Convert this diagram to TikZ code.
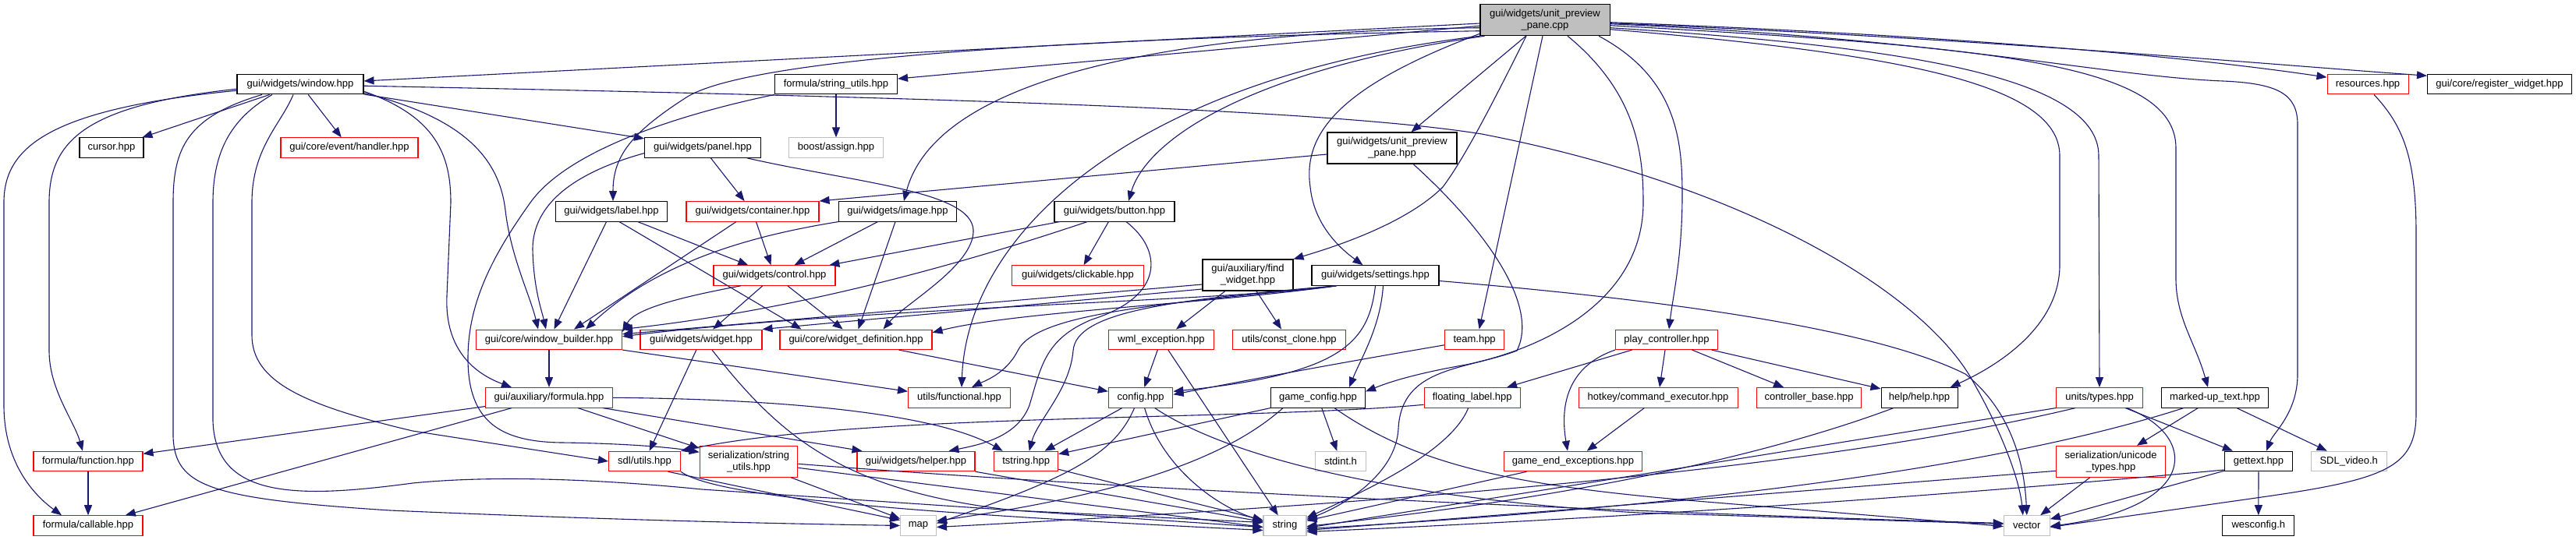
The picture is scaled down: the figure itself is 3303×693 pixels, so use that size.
\documentclass[tikz,border=0pt]{standalone}
\usepackage{fontspec}
\setmainfont{Liberation Sans}
\usetikzlibrary{arrows.meta}
\definecolor{edgec}{HTML}{191970}
\definecolor{lgray}{HTML}{BFBFBF}
\definecolor{nred}{HTML}{FF0000}
\begin{document}
\begin{tikzpicture}[x=1pt,y=-1pt,
  box/.style={rectangle, line width=1.05pt, fill=white, inner sep=0pt, minimum height=25.5pt, align=center, font=\fontsize{13}{15}\selectfont, text=black},
  nb/.style={box, draw=black},
  nr/.style={box, draw=nred},
  ng/.style={box, draw=lgray},
  nroot/.style={box, draw=black, fill=lgray},
  ed/.style={draw=edgec, line width=1.1pt, -{Triangle[length=13pt,width=10pt]}}]
\fill[white] (0,0) rectangle (3303,693);
\useasboundingbox (0,0) rectangle (3303,693);
% nodes
\node[nroot,minimum width=166pt,minimum height=40pt] (root) at (1981,25.7) {gui/widgets/unit\_preview\\\_pane.cpp};
\node[nb,minimum width=162pt] (window) at (385,108.2) {gui/widgets/window.hpp};
\node[nb,minimum width=157pt] (fstrutils) at (1072,108.2) {formula/string\_utils.hpp};
\node[nr,minimum width=104pt] (resources) at (3036,108.2) {resources.hpp};
\node[nb,minimum width=185pt] (register) at (3205,108.2) {gui/core/register\_widget.hpp};
\node[nb,minimum width=82pt] (cursor) at (143,189.6) {cursor.hpp};
\node[nr,minimum width=176pt] (handler) at (448,189.6) {gui/core/event/handler.hpp};
\node[nb,minimum width=149pt] (panel) at (901,189.6) {gui/widgets/panel.hpp};
\node[ng,minimum width=121pt] (assign) at (1072,189.6) {boost/assign.hpp};
\node[nb,minimum width=166pt,minimum height=40pt] (uphpp) at (1785,190) {gui/widgets/unit\_preview\\\_pane.hpp};
\node[nb,minimum width=143pt] (label) at (784,271.3) {gui/widgets/label.hpp};
\node[nr,minimum width=170pt] (container) at (965,271.3) {gui/widgets/container.hpp};
\node[nb,minimum width=151pt] (image) at (1151,271.3) {gui/widgets/image.hpp};
\node[nb,minimum width=154pt] (button) at (1429,271.3) {gui/widgets/button.hpp};
\node[nr,minimum width=156pt] (control) at (993,353.5) {gui/widgets/control.hpp};
\node[nr,minimum width=169pt] (clickable) at (1382,353.5) {gui/widgets/clickable.hpp};
\node[nb,minimum width=116pt,minimum height=40pt] (findw) at (1600,353) {gui/auxiliary/find\\\_widget.hpp};
\node[nb,minimum width=163pt] (settings) at (1763.5,353.5) {gui/widgets/settings.hpp};
\node[nr,minimum width=187pt] (wbuilder) at (704,435.8) {gui/core/window\_builder.hpp};
\node[nr,minimum width=156pt] (widget) at (899,435.8) {gui/widgets/widget.hpp};
\node[nr,minimum width=195pt] (wdef) at (1097.5,435.8) {gui/core/widget\_definition.hpp};
\node[nr,minimum width=135pt] (wml) at (1489,435.8) {wml\_exception.hpp};
\node[nr,minimum width=145pt] (constclone) at (1653,435.8) {utils/const\_clone.hpp};
\node[nr,minimum width=76pt] (team) at (1890.6,435.8) {team.hpp};
\node[nr,minimum width=131pt] (playc) at (2137,435.8) {play\_controller.hpp};
\node[nr,minimum width=162.5pt] (formula) at (704,510.3) {gui/auxiliary/formula.hpp};
\node[nr,minimum width=131pt] (functional) at (1230,510.3) {utils/functional.hpp};
\node[nr,minimum width=82.6pt] (config) at (1462.6,510.3) {config.hpp};
\node[nb,minimum width=121pt] (gameconfig) at (1690,510.3) {game\_config.hpp};
\node[nr,minimum width=123pt] (floating) at (1887.7,510.3) {floating\_label.hpp};
\node[nr,minimum width=204pt] (cmdexec) at (2126,510.3) {hotkey/command\_executor.hpp};
\node[nr,minimum width=134pt] (ctrlbase) at (2319.6,510.3) {controller\_base.hpp};
\node[nb,minimum width=98pt] (help) at (2461,510.3) {help/help.hpp};
\node[nr,minimum width=110.5pt] (unittypes) at (2692,510.3) {units/types.hpp};
\node[nb,minimum width=137pt] (markedup) at (2840,510.3) {marked-up\_text.hpp};
\node[nr,minimum width=140pt] (function) at (113,592) {formula/function.hpp};
\node[nr,minimum width=92pt] (sdlutils) at (826.5,592) {sdl/utils.hpp};
\node[nr,minimum width=125.5pt,minimum height=40pt] (serstr) at (960,592.3) {serialization/string\\\_utils.hpp};
\node[nr,minimum width=151pt] (helper) at (1174.5,592) {gui/widgets/helper.hpp};
\node[nr,minimum width=82pt] (tstring) at (1315.7,592) {tstring.hpp};
\node[ng,minimum width=64.5pt] (stdint) at (1719,592) {stdint.h};
\node[nr,minimum width=177pt] (gameend) at (2017,592) {game\_end\_exceptions.hpp};
\node[nr,minimum width=140pt,minimum height=40pt] (unicode) at (2706.6,592.3) {serialization/unicode\\\_types.hpp};
\node[nb,minimum width=87pt] (gettext) at (2896,592) {gettext.hpp};
\node[ng,minimum width=96.7pt] (sdlvideo) at (3011.7,592) {SDL\_video.h};
\node[nr,minimum width=140pt] (callable) at (113,674.5) {formula/callable.hpp};
\node[ng,minimum width=46pt] (map) at (1177.5,674.5) {map};
\node[ng,minimum width=55pt] (string) at (1647.5,674.5) {string};
\node[ng,minimum width=59pt] (vector) at (2598.8,674.5) {vector};
\node[nb,minimum width=92pt] (wesconfig) at (2895.8,674.5) {wesconfig.h};
% root edges
\draw[ed] (root) -- (window);
\draw[ed] (root) -- (fstrutils);
\draw[ed] ([yshift=-3pt]root.east) .. controls (2500,45) and (2800,72) .. ([yshift=9pt]resources.west);
\draw[ed] ([yshift=-4pt]root.east) .. controls (2550,50) and (2900,82) .. ([yshift=11pt]register.west);
\draw[ed] (root) -- (uphpp);
\draw[ed] ([yshift=-14pt]root.west) .. controls (1300,50) and (950,80) .. (880,125) .. controls (810,170) and (786,200) .. ([xshift=2pt]label.north);
\draw[ed] ([yshift=-10pt]root.west) .. controls (1500,40) and (1200,100) .. ([xshift=8pt]image.north);
\draw[ed] (root.south west) .. controls (1450,100) and (1240,300) .. ([xshift=3pt]functional.north);
\draw[ed] ([xshift=6pt]root.south west) .. controls (1600,90) and (1470,180) .. ([xshift=18pt]button.north);
\draw[ed] ([xshift=-24pt]root.south) .. controls (1920,120) and (1880,200) .. (1850,240) .. controls (1800,290) and (1700,320) .. (findw.north east);
\draw[ed] ([yshift=3pt]root.south west) .. controls (1720,110) and (1670,170) .. (1680,240) .. controls (1685,290) and (1720,320) .. ([xshift=-16pt]settings.north);
\draw[ed] ([xshift=-3pt]root.south) -- ([xshift=6pt]team.north);
\draw[ed] ([xshift=29pt]root.south) .. controls (2100,120) and (2107,200) .. (2107,260) .. controls (2107,380) and (1990,445) .. (1880,468) .. controls (1800,482) and (1770,495) .. ([yshift=8pt]gameconfig.east);
\draw[ed] ([xshift=69pt]root.south) .. controls (2150,100) and (2157,180) .. (2157,250) .. controls (2157,330) and (2145,380) .. ([xshift=3pt]playc.north);
\draw[ed] ([yshift=-12pt]root.east) .. controls (2450,70) and (2641,110) .. (2641,200) -- (2641,340) .. controls (2641,420) and (2560,470) .. ([xshift=-10pt]help.north east);
\draw[ed] ([yshift=-10pt]root.east) .. controls (2450,60) and (2691,100) .. (2691,200) -- (unittypes.north);
\draw[ed] ([yshift=-7pt]root.east) .. controls (2550,60) and (2790,80) .. (2790,190) -- (2790,360) .. controls (2791,410) and (2815,440) .. ([xshift=-9pt]markedup.north);
\draw[ed] ([yshift=-5pt]root.east) .. controls (2500,50) and (2700,98) .. (2850,104) .. controls (2920,107) and (2946,120) .. (2946,160) -- (2946,480) .. controls (2946,530) and (2915,555) .. ([xshift=10pt]gettext.north);
% window edges
\draw[ed] (window) -- (cursor);
\draw[ed] (window) -- (handler);
\draw[ed] (window) -- (panel);
\draw[ed] ([yshift=-8pt]window.west) .. controls (60,140) and (5,190) .. (5,260) -- (5,520) .. controls (5,600) and (50,640) .. ([xshift=-34pt]callable.north);
\draw[ed] ([yshift=-6pt]window.west) .. controls (110,135) and (63,180) .. (63,260) -- (63,450) .. controls (63,500) and (95,540) .. ([xshift=-7pt]function.north);
\draw[ed] ([xshift=-49pt]window.south) .. controls (240,150) and (222,190) .. (222,260) -- (222,560) .. controls (224,625) and (270,640) .. (500,655) .. controls (800,668) and (1000,672) .. (map.west);
\draw[ed] ([xshift=-36pt]window.south) .. controls (300,150) and (273,190) .. (273,260) -- (273,540) .. controls (276,640) and (380,640) .. (529,620) .. controls (650,608) and (800,618) .. (900,628) -- ([yshift=-2pt]string.west);
\draw[ed] ([xshift=-9pt]window.south) .. controls (360,160) and (323,190) .. (323,260) -- (323,430) .. controls (323,490) and (390,520) .. (529,553) -- (sdlutils.west);
\draw[ed] ([yshift=-9pt]window.east) .. controls (560,150) and (578,200) .. (578,260) -- (573,380) .. controls (570,450) and (610,480) .. ([xshift=-48pt]formula.north);
\draw[ed] ([yshift=-11pt]window.east) .. controls (590,150) and (640,200) .. (648,270) .. controls (655,330) and (680,380) .. ([xshift=-14pt]wbuilder.north);
\draw[ed] ([yshift=-2pt]window.east) .. controls (1200,125) and (1700,140) .. (1900,172) .. controls (2250,240) and (2470,380) .. (2530,490) .. controls (2570,560) and (2590,620) .. ([xshift=-5pt]vector.north);
% formula/string_utils
\draw[ed] (fstrutils) -- (assign);
\draw[ed] (fstrutils.south west) .. controls (880,145) and (730,190) .. (680,260) .. controls (630,330) and (600,390) .. (600,460) .. controls (600,540) and (640,567) .. (720,568) .. controls (800,569) and (860,574) .. ([yshift=12pt]serstr.west);
% panel
\draw[ed] (panel) -- (container);
\draw[ed] ([xshift=57pt]panel.south) .. controls (1100,235) and (1245,245) .. (1248,295) .. controls (1250,340) and (1160,390) .. ([xshift=35pt]wdef.north);
\draw[ed] ([yshift=-7pt]panel.west) .. controls (760,215) and (683,250) .. (683,320) .. controls (684,370) and (695,400) .. ([xshift=-4pt]wbuilder.north);
% unit_preview_pane.hpp
\draw[ed] ([yshift=-8pt]uphpp.west) -- (container.north east);
\draw[ed] ([xshift=27pt]uphpp.south) .. controls (1900,290) and (1975,390) .. (1945,450) .. controls (1880,475) and (1797,470) .. (1793,550) .. controls (1790,610) and (1720,650) .. ([yshift=8pt]string.east);
% label, container, image, button
\draw[ed] (label) -- (wbuilder);
\draw[ed] (label) -- (control);
\draw[ed] ([xshift=10pt]label.south) -- ([xshift=-70pt]wdef.north);
\draw[ed] (container) -- (control);
\draw[ed] ([xshift=-21pt]container.south) -- ([xshift=32pt]wbuilder.north);
\draw[ed] (image) -- (control);
\draw[ed] ([xshift=-3pt]image.south) -- ([xshift=3pt]wdef.north);
\draw[ed] (image.south west) .. controls (980,300) and (850,330) .. ([xshift=47pt]wbuilder.north);
\draw[ed] (button) -- (control);
\draw[ed] (button) -- (clickable);
\draw[ed] ([xshift=-35pt]button.south) .. controls (1200,350) and (1000,400) .. (wbuilder.north east);
\draw[ed] ([xshift=15pt]button.south) .. controls (1490,320) and (1495,380) .. (1400,410) .. controls (1340,435) and (1335,470) .. (1320,520) .. controls (1305,560) and (1260,570) .. ([xshift=42pt]helper.north);
% control
\draw[ed] (control) -- (widget);
\draw[ed] (control) -- (wdef);
\draw[ed] ([xshift=-43pt]control.south) .. controls (880,380) and (815,395) .. ([yshift=10pt]wbuilder.east);
% find_widget
\draw[ed] ([yshift=-12pt]findw.west) -- ([yshift=7pt]wbuilder.east);
\draw[ed] ([yshift=-18pt]findw.west) -- (widget.north east);
\draw[ed] ([xshift=-29pt]findw.south) -- ([xshift=19pt]wml.north);
\draw[ed] ([xshift=11pt]findw.south) -- ([xshift=-10pt]constclone.north);
% settings
\draw[ed] ([xshift=-50pt]settings.south) .. controls (1600,385) and (1100,395) .. ([yshift=4pt]wbuilder.east);
\draw[ed] ([xshift=-50pt]settings.south) .. controls (1550,390) and (1300,400) .. ([yshift=9pt]wdef.east);
\draw[ed] ([xshift=-50pt]settings.south) .. controls (1500,385) and (1380,400) .. (1376,450) .. controls (1372,500) and (1330,540) .. ([xshift=4pt]tstring.north);
\draw[ed] ([xshift=-50pt]settings.south) .. controls (1500,390) and (1330,400) .. (1305,450) .. controls (1290,480) and (1260,490) .. ([xshift=16pt]functional.north);
\draw[ed] (settings.south) .. controls (1755,440) and (1720,480) .. ([yshift=8pt]config.east);
\draw[ed] ([xshift=10pt]settings.south) .. controls (1770,420) and (1745,460) .. ([xshift=40pt]gameconfig.north);
\draw[ed] ([yshift=-7pt]settings.east) .. controls (2200,390) and (2420,430) .. (2520,480) .. controls (2570,520) and (2595,580) .. (vector.north);
% team, play_controller
\draw[ed] ([yshift=-7pt]team.west) .. controls (1780,455) and (1650,478) .. ([yshift=4pt]config.east);
\draw[ed] (playc) -- (floating);
\draw[ed] (playc) -- (cmdexec);
\draw[ed] (playc) -- (ctrlbase);
\draw[ed] (playc) -- (help);
\draw[ed] (playc.south west) .. controls (2010,470) and (2000,520) .. ([xshift=-7pt]gameend.north);
\draw[ed] (cmdexec) -- (gameend);
% widget, window_builder, widget_definition, wml_exception
\draw[ed] (widget) -- (sdlutils);
\draw[ed] ([xshift=14pt]widget.south) .. controls (1000,560) and (1080,630) .. (1300,655) -- ([yshift=4pt]string.west);
\draw[ed] (wbuilder) -- (formula);
\draw[ed] (wbuilder.south east) -- ([yshift=8pt]functional.west);
\draw[ed] ([xshift=55pt]wdef.south) -- ([yshift=8pt]config.west);
\draw[ed] (wml) -- (config);
\draw[ed] (wml) -- (string);
% config, game_config
\draw[ed] (config) -- (tstring);
\draw[ed] ([xshift=-8pt]config.south) .. controls (1430,580) and (1380,610) .. ([yshift=3pt]map.east);
\draw[ed] ([xshift=5pt]config.south) .. controls (1490,600) and (1560,650) .. ([yshift=6pt]string.west);
\draw[ed] ([xshift=18pt]config.south) .. controls (1580,590) and (1800,640) .. (2100,658) -- ([yshift=2pt]vector.west);
\draw[ed] (gameconfig.south west) -- ([yshift=-4pt]tstring.north east);
\draw[ed] ([xshift=-45pt]gameconfig.south) .. controls (1560,600) and (1400,640) .. ([yshift=6pt]map.east);
\draw[ed] (gameconfig) -- (stdint);
\draw[ed] ([xshift=21pt]gameconfig.south) .. controls (1820,600) and (1950,625) .. (2200,645) -- ([yshift=-1pt]vector.west);
% floating_label, game_end, help
\draw[ed] ([yshift=-9pt]floating.west) .. controls (1600,540) and (1100,530) .. (sdlutils.north east);
\draw[ed] ([xshift=-5pt]floating.south) .. controls (1860,580) and (1750,630) .. ([yshift=10pt]string.east);
\draw[ed] (gameend) -- (string);
\draw[ed] ([xshift=-33pt]help.south) .. controls (2250,590) and (2000,640) .. ([yshift=-1pt]string.east);
% units/types, marked-up_text, unicode, gettext, resources
\draw[ed] (unittypes.south west) -- ([yshift=-3pt]string.east);
\draw[ed] ([xshift=-31pt]unittypes.south) .. controls (2300,610) and (1700,650) .. ([yshift=-2pt]map.east);
\draw[ed] (unittypes) -- (gettext);
\draw[ed] ([xshift=35pt]unittypes.south) .. controls (2820,560) and (2820,650) .. ([yshift=-1pt]vector.east);
\draw[ed] (markedup) -- (unicode);
\draw[ed] (markedup) -- (sdlvideo);
\draw[ed] ([xshift=-40pt]markedup.south) .. controls (2500,620) and (2000,660) .. ([yshift=-4pt]string.east);
\draw[ed] (unicode) -- (vector);
\draw[ed] ([yshift=-12pt]unicode.west) -- ([yshift=-6pt]string.east);
\draw[ed] (gettext) -- (vector);
\draw[ed] (gettext) -- (wesconfig);
\draw[ed] ([yshift=-11pt]gettext.west) .. controls (2400,645) and (2000,668) .. ([yshift=-8pt]string.east);
\draw[ed] ([xshift=8pt]resources.south) .. controls (3080,160) and (3098,200) .. (3098,300) -- (3098,530) .. controls (3098,600) and (3060,615) .. (2900,638) -- ([yshift=-2pt]vector.east);
% formula and lower level
\draw[ed] (formula) -- (function);
\draw[ed] (formula) -- (callable);
\draw[ed] ([xshift=37pt]formula.south) -- ([yshift=17pt]serstr.west);
\draw[ed] ([xshift=69pt]formula.south) -- ([xshift=-69pt]helper.north);
\draw[ed] (formula.east) .. controls (1000,512) and (1200,530) .. ([xshift=-30pt]tstring.north);
\draw[ed] (function) -- (callable);
\draw[ed] (serstr) -- (map);
\draw[ed] ([yshift=-8pt]serstr.east) -- ([yshift=-2pt]string.west);
\draw[ed] ([yshift=-3pt]serstr.east) .. controls (1400,625) and (2000,655) .. ([yshift=3pt]vector.west);
\draw[ed] ([xshift=30pt]sdlutils.south) -- ([yshift=7pt]map.west);
\draw[ed] (sdlutils.south east) .. controls (920,640) and (1200,660) .. ([yshift=-6pt]string.west);
\draw[ed] (tstring) -- (string);
\draw[ed] (helper) -- (string);
\end{tikzpicture}
\end{document}
